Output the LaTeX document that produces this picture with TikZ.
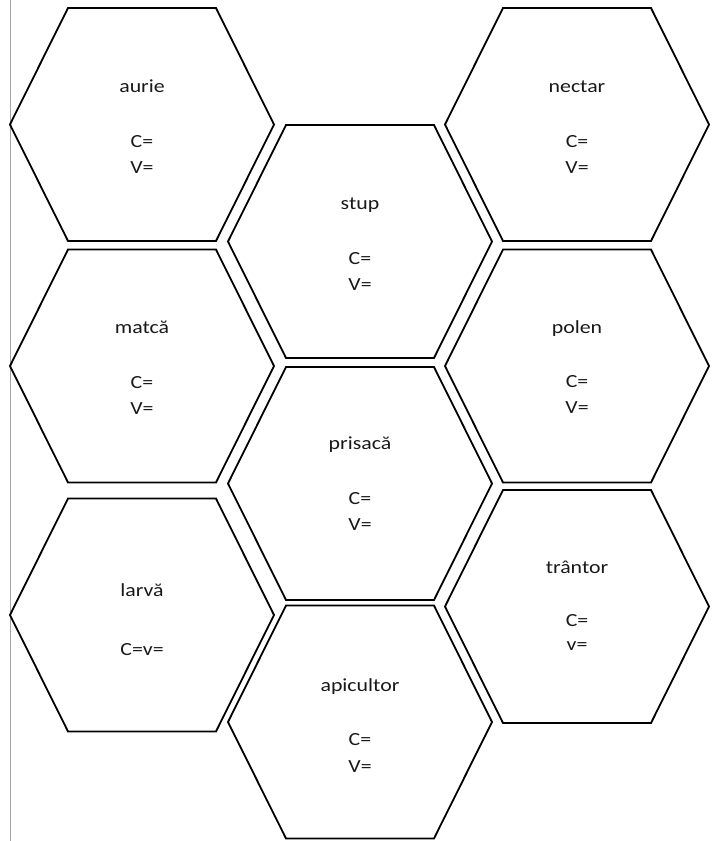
\documentclass[tikz,border=0pt]{standalone}
\usepackage{fontspec}
\setmainfont{Carlito}[FakeStretch=1.18]

\tikzset{
  celula/.style={draw=black, line width=1.8pt, line join=miter},
  eticheta/.style={anchor=base, text=black!90, inner sep=0pt, font=\fontsize{18.5}{22}\selectfont},
}

\begin{document}
\begin{tikzpicture}[x=1pt, y=-1pt]
    \useasboundingbox (0,0) rectangle (721,841);

    % Margine
    \draw[black!35, line width=1pt] (10.5,0) -- (10.5,841);

    % Celule
    \foreach \cx/\cy in {142/124.5, 142/366, 142/615, 360/241.5, 360/483.5, 360/722, 577/124.5, 577/366, 577/606.5}
        \draw[celula] (\cx-132,\cy) -- (\cx-74,\cy-116.5) -- (\cx+74,\cy-116.5) -- (\cx+132,\cy) -- (\cx+74,\cy+116.5) -- (\cx-74,\cy+116.5) -- cycle;

    % Coloana stanga
    \node[eticheta] (aurie) at (142, 92) {aurie};
    \node[eticheta] (aurieC) at (142, 147) {C=};
    \node[eticheta] (aurieV) at (142, 173) {V=};
    \node[eticheta] (matca) at (142, 333) {matcă};
    \node[eticheta] (matcaC) at (142, 388) {C=};
    \node[eticheta] (matcaV) at (142, 414) {V=};
    \node[eticheta] (larva) at (142, 596) {larvă};
    \node[eticheta] (larvaCV) at (142, 655) {C=v=};

    % Coloana din mijloc
    \node[eticheta] (stup) at (360, 209) {stup};
    \node[eticheta] (stupC) at (360, 264) {C=};
    \node[eticheta] (stupV) at (360, 290) {V=};
    \node[eticheta] (prisaca) at (360, 449) {prisacă};
    \node[eticheta] (prisacaC) at (360, 504) {C=};
    \node[eticheta] (prisacaV) at (360, 530) {V=};
    \node[eticheta] (apicultor) at (360, 691) {apicultor};
    \node[eticheta] (apicultorC) at (360, 745) {C=};
    \node[eticheta] (apicultorV) at (360, 772) {V=};

    % Coloana dreapta
    \node[eticheta] (nectar) at (577, 92) {nectar};
    \node[eticheta] (nectarC) at (577, 147) {C=};
    \node[eticheta] (nectarV) at (577, 173) {V=};
    \node[eticheta] (polen) at (577, 333) {polen};
    \node[eticheta] (polenC) at (577, 387) {C=};
    \node[eticheta] (polenV) at (577, 413) {V=};
    \node[eticheta] (trantor) at (577, 573) {trântor};
    \node[eticheta] (trantorC) at (577, 626) {C=};
    \node[eticheta] (trantorV) at (577, 650) {v=};

\end{tikzpicture}
\end{document}
